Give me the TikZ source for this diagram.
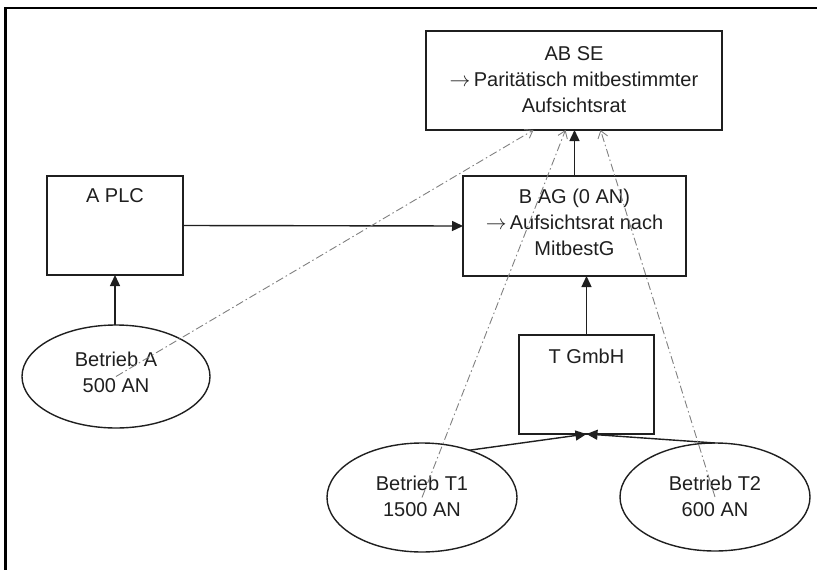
\documentclass[tikz,border=0pt]{standalone}
\usepackage{fontspec}
\setmainfont{Liberation Sans}
\usetikzlibrary{arrows.meta,calc,shapes.geometric}
\definecolor{linec}{gray}{0.12}
\definecolor{dashc}{gray}{0.5}
\newcommand{\arr}{$\rightarrow$\,}
\begin{document}
\begin{tikzpicture}[x=1pt,y=-1pt,
  every node/.style={inner sep=0pt, outer sep=0pt},
  box/.style={draw=linec, line width=1.4pt, rectangle},
  oval/.style={draw=linec, line width=1.4pt, ellipse},
  txt/.style={anchor=north, align=center, font=\fontsize{20}{26}\selectfont, text=black!88},
  solidarrow/.style={draw=linec, line width=1.4pt, -{Triangle[length=11pt,width=10pt]}},
  dasharrow/.style={draw=dashc, line width=0.9pt,
    dash pattern=on 8pt off 3pt on 1.5pt off 3pt,
    -{Straight Barb[length=7pt,width=10pt]}}
]
\useasboundingbox (0,0) rectangle (817,570);

% outer frame (only the top and left edges fall inside the page)
\draw[line width=2.4pt, line join=miter] (5.5,570) -- (5.5,7.7) -- (817,7.7);

% companies
\node[box, minimum width=296, minimum height=99] (abse)  at (574,80.5)  {};
\node[box, minimum width=136, minimum height=99] (aplc)  at (115,225.5) {};
\node[box, minimum width=223, minimum height=100] (bag)  at (574.5,226) {};
\node[box, minimum width=135, minimum height=99] (tgmbh) at (586.5,384.5) {};

\node[txt] (abse-t)  at ($(abse.north)+(0,15.4)$)  {AB SE\\\arr Paritätisch mitbestimmter\\Aufsichtsrat};
\node[txt] (aplc-t)  at ($(aplc.north)+(0,13)$)    {A PLC};
\node[txt] (bag-t)   at ($(bag.north)+(0,12.7)$)   {B AG (0 AN)\\\arr Aufsichtsrat nach\\MitbestG};
\node[txt] (tgmbh-t) at ($(tgmbh.north)+(0,14.4)$) {T GmbH};

% establishments
\node[oval, minimum width=188, minimum height=103] (ba) at (116,376.5) {};
\node[oval, minimum width=190, minimum height=109] (t1) at (422,497.5) {};
\node[oval, minimum width=190, minimum height=108] (t2) at (715,497)   {};

\node[txt] (ba-t) at ($(ba.center)+(0,-24)$) {Betrieb A\\500 AN};
\node[txt] (t1-t) at ($(t1.center)+(0,-21)$) {Betrieb T1\\1500 AN};
\node[txt] (t2-t) at ($(t2.center)+(0,-21)$) {Betrieb T2\\600 AN};

% ownership connectors
\draw[solidarrow] (aplc.south |- ba.north) -- (aplc.south);
\draw[solidarrow] (aplc.east) -- (bag.west);
\draw[solidarrow] (bag.north) -- (bag.north |- abse.south);
\draw[solidarrow] (tgmbh.north) -- (tgmbh.north |- bag.south);
\draw[solidarrow] (t1.45) -- (tgmbh.south);
\draw[solidarrow] (t2.north) -- (tgmbh.south);

% employee attribution to the SE
\coordinate (e1) at ($(abse.south)+(-40.5,0)$);
\coordinate (e2) at ($(abse.south)+(-8.5,0)$);
\coordinate (e3) at ($(abse.south)+(26.5,0)$);
\draw[dasharrow] (ba.center) -- (e1);
\draw[dasharrow] (t1.center) -- (e2);
\draw[dasharrow] (t2.center) -- (e3);
\end{tikzpicture}
\end{document}
